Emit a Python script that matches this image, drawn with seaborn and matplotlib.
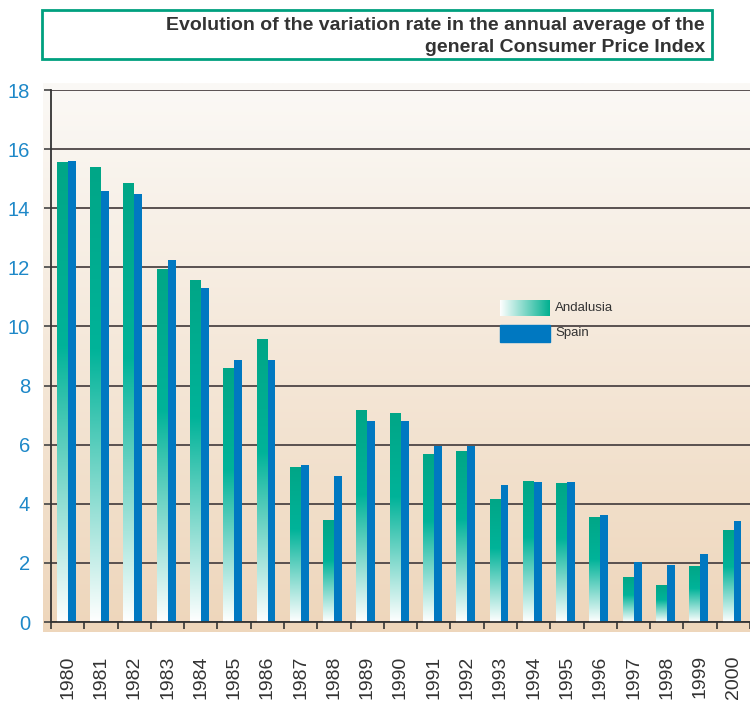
import numpy as np
import pandas as pd
import seaborn as sns
import matplotlib.pyplot as plt
from matplotlib.colors import LinearSegmentedColormap
from matplotlib.patches import Rectangle

# data
years = ['1980', '1981', '1982', '1983', '1984', '1985', '1986', '1987', '1988', '1989', '1990',
         '1991', '1992', '1993', '1994', '1995', '1996', '1997', '1998', '1999', '2000']
andalusia = [15.56, 15.39, 14.85, 11.94, 11.57, 8.59, 9.57, 5.24, 3.42, 7.14, 7.04,
             5.68, 5.78, 4.16, 4.77, 4.70, 3.52, 1.52, 1.25, 1.89, 3.08]
spain = [15.60, 14.58, 14.48, 12.25, 11.30, 8.86, 8.86, 5.31, 4.94, 6.80, 6.80,
         5.95, 5.95, 4.63, 4.74, 4.74, 3.62, 2.03, 1.93, 2.30, 3.42]
yticks = [0, 2, 4, 6, 8, 10, 12, 14, 16, 18]
title_lines = ['Evolution of the variation rate in the annual average of the',
               'general Consumer Price Index']

sns.set_theme(style='white')
plt.rcParams['font.family'] = ['Liberation Sans', 'DejaVu Sans']

W, H = 750, 702
fig = plt.figure(figsize=(W / 100, H / 100), dpi=100)


def fx(px):
    return px / W


def fy(py):
    return 1 - py / H


# background panel with vertical gradient
bg = fig.add_axes([fx(43), fy(632), fx(750) - fx(43), fy(83) - fy(632)], zorder=0)
bg_cmap = LinearSegmentedColormap.from_list('bg', ['#FBF9F6', '#EED6BB'])
bg.imshow(np.linspace(0, 1, 256).reshape(-1, 1), aspect='auto', cmap=bg_cmap,
          extent=[0, 1, 0, 1], origin='upper')
bg.axis('off')

ax = fig.add_axes([fx(51), fy(622), 1 - fx(51), fy(90) - fy(622)], zorder=1)
ax.patch.set_alpha(0)

df = pd.DataFrame({
    'year': years * 2,
    'value': andalusia + spain,
    'region': ['Andalusia'] * len(years) + ['Spain'] * len(years),
})
sns.barplot(data=df, x='year', y='value', hue='region',
            palette={'Andalusia': '#00AD90', 'Spain': '#0078C1'},
            width=0.57, dodge=True, saturation=1, legend=False, ax=ax)

and_cmap = LinearSegmentedColormap.from_list(
    'and', [(0, '#FFFFFF'), (0.6, '#00B399'), (1, '#00A687')])
bar_grad = np.linspace(0, 1, 256).reshape(-1, 1)

for i, p in enumerate(ax.containers[0]):
    p.set_x(i - 0.322)
    p.set_width(0.327)
    h = p.get_height()
    p.set_facecolor('none')
    p.set_edgecolor('none')
    ax.imshow(bar_grad, cmap=and_cmap, aspect='auto', origin='lower',
              extent=[i - 0.322, i + 0.005, 0, h], zorder=2)

for i, p in enumerate(ax.containers[1]):
    p.set_x(i + 0.005)
    p.set_width(0.238)
    p.set_edgecolor('none')
    p.set_zorder(2)

ax.set_xlim(-0.5, 20.27)
ax.set_ylim(0, 18)
ax.set_yticks(yticks)
ax.set_xticks(np.arange(-0.5, len(years), 1), minor=True)
ax.yaxis.grid(True, color='#4d4545', linewidth=1.3)
ax.xaxis.grid(False)
ax.set_axisbelow(True)
ax.set_xlabel('')
ax.set_ylabel('')

ax.tick_params(axis='x', which='major', length=0, pad=24, labelsize=14,
               labelrotation=90, labelcolor='#333333', bottom=True)
ax.tick_params(axis='x', which='minor', length=5, width=1.2, color='#333333',
               direction='out', bottom=True)
ax.tick_params(axis='y', length=5, width=1.2, color='#444444', labelsize=14.5,
               labelcolor='#1E88C8', pad=10, left=True, direction='out')

for s in ['top', 'right']:
    ax.spines[s].set_visible(False)
for s in ['left', 'bottom']:
    ax.spines[s].set_color('#333333')
    ax.spines[s].set_linewidth(1.3)

# title box
fig.add_artist(Rectangle((fx(42), fy(59)), fx(712) - fx(42), fy(10) - fy(59),
                         transform=fig.transFigure, fill=False,
                         edgecolor='#00A07F', linewidth=2))
fig.text(fx(705), fy(30), title_lines[0], ha='right', va='baseline', fontsize=14,
         fontweight='bold', color='#333333')
fig.text(fx(705), fy(52), title_lines[1], ha='right', va='baseline', fontsize=14,
         fontweight='bold', color='#333333')

# legend
lg = fig.add_axes([fx(500), fy(316), fx(550) - fx(500), fy(300) - fy(316)], zorder=3)
leg_cmap = LinearSegmentedColormap.from_list('leg', ['#FFFFFF', '#00B090'])
lg.imshow(np.linspace(0, 1, 256).reshape(1, -1), cmap=leg_cmap, aspect='auto')
lg.axis('off')
fig.add_artist(Rectangle((fx(500), fy(342)), fx(550) - fx(500), fy(325) - fy(342),
                         transform=fig.transFigure, color='#0078C1', zorder=3))
fig.text(fx(555), fy(308), 'Andalusia', ha='left', va='center', fontsize=9.5, color='#333333')
fig.text(fx(555), fy(333), 'Spain', ha='left', va='center', fontsize=9.5, color='#333333')

fig.savefig('out.png', dpi=100)
